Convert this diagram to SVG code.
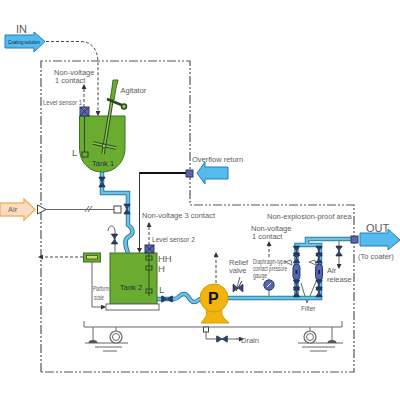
<svg xmlns="http://www.w3.org/2000/svg" width="400" height="400" viewBox="0 0 400 400">
<style>
text{font-family:"Liberation Sans",Arial,sans-serif;fill:#5c5c5c}
.t{font-size:7.5px}
.s{font-size:6.5px}
.l{font-size:11px}
.m{font-size:9.500px}
.bound{fill:none;stroke:#555;stroke-width:1.200;stroke-dasharray:9 2 2 2 2 2}
.sig{fill:none;stroke:#444;stroke-width:1;stroke-dasharray:3 2}
.ln{fill:none;stroke:#666;stroke-width:1}
.po{fill:none;stroke:#2a7ca0;stroke-width:4.500}
.pi{fill:none;stroke:#6cc3e6;stroke-width:2.600}
.green{fill:#69ac30;stroke:#3f6e22;stroke-width:1}
.ar{fill:#55bbee;stroke:#1f7fb5;stroke-width:1}
.vb{fill:#33466e;stroke:#1d2a50;stroke-width:.6}
.sq{fill:#5a68a8;stroke:#2d3870;stroke-width:1}
.bx{fill:none;stroke:#2c4a1a;stroke-width:1}
</style>
<defs>
<marker id="tip" markerWidth="5" markerHeight="5" refX="4" refY="2.500" orient="auto"><path d="M0 0L5 2.500L0 5z" fill="#333"/></marker>
<g id="valve"><path class="vb" d="M-2.500 -4L2.500 -4L-2.500 4L2.500 4z"/><path class="vb" d="M-3 -5h6v1h-6zM-3 4h6v1h-6z"/></g>
<g id="hvalve"><path class="vb" d="M-4 -2.500L-4 2.500L4 -2.500L4 2.500z"/><path class="vb" d="M-5.500 -3h1.200v6h-1.200zM4.300 -3h1.200v6h-1.200z"/></g>
<g id="filt"><use href="#valve" y="-21"/><use href="#valve" y="-14"/><rect x="-3.500" y="-8" width="7" height="16" rx="3.500" fill="#5468b0" stroke="#2d3870"/><rect x="-1" y="-2" width="2" height="4" fill="#1d2a50"/><use href="#valve" y="13"/><use href="#valve" y="20"/></g>
<g id="wheel"><circle r="6" fill="#fff" stroke="#666" stroke-width="1.200"/><circle r="3.500" fill="#fff" stroke="#666" stroke-width="1"/></g>
<path id="bump" d="M-4.500 0Q-4.500 -3 0 -3Q4.500 -3 4.500 0z" fill="#555"/>
</defs>

<g id="boundary">
<path class="bound" d="M41 372V61H190V205H354V372H41"/>
</g>

<g id="connectors">
<path class="sig" marker-end="url(#tip)" d="M46 41.500H80Q97 41.500 98 62V115"/>
<path class="sig" marker-end="url(#tip)" d="M84 107V85"/>
<path class="sig" marker-end="url(#tip)" d="M149 245V223"/>
<path class="sig" marker-end="url(#tip)" d="M83 257H39"/>
<path class="sig" marker-end="url(#tip)" d="M216 283V253"/>
<path class="sig" marker-end="url(#tip)" d="M269 257V242"/>
<path d="M139.500 173H186" fill="none" stroke="#111" stroke-width="1.800"/>
<path d="M139.500 172V252" fill="none" stroke="#333" stroke-width="1" marker-end="url(#tip)"/>
<path class="ln" d="M44 209.500H114"/>
<path class="ln" d="M85 212L89 206M88 212L92 206"/>
<path class="ln" d="M92 262V307H105" marker-end="url(#tip)"/>
<path class="ln" d="M115 252V231a3.500 5 0 0 0 -7 0"/>
<path class="ln" d="M84 327H342M84 321V327M342 321V327"/>
<path class="ln" d="M93 327V342M116 327V331M310 327V331M332 327V342"/>
<path class="ln" d="M85 343H128M95 347H122M103 351H117M298 343H343M302 347H335M310 351H327"/>
<path class="ln" d="M206 332V339H236"/>
<path d="M236 339H243" fill="none" stroke="#333" marker-end="url(#tip)"/>
<path class="ln" d="M339 240V268" marker-end="url(#tip)"/>
<path class="ln" d="M301 283L307 303L318 277"/>
<path class="ln" d="M240 277L237 287"/>
<path class="ln" d="M269 290V297M265 297H273"/>
<g>
<path class="po" d="M102 172V193H128V225C134 229 134 234 128 237C124 240 125 245 128 253"/>
<path class="pi" d="M102 172V193H128V225C134 229 134 234 128 237C124 240 125 245 128 253"/>
<path class="po" d="M157 299H174C179 299 179 294 184 294C189 294 189 302 194 302C198 302 198 299 201 299"/>
<path class="pi" d="M157 299H174C179 299 179 294 184 294C189 294 189 302 194 302C198 302 198 299 201 299"/>
<path class="po" d="M228 298H320V245H296.500V298M307 245V239H354"/>
<path class="pi" d="M228 298H320V245H296.500V298M307 245V239H354"/>
</g>
</g>

<g id="arrow-in"><path class="ar" d="M5 35H34V32L45 41.500L34 52V48H5z"/><text x="8" y="44" font-size="6" textLength="32" lengthAdjust="spacingAndGlyphs" style="fill:#123">Coating solution</text><text class="l" x="16" y="33">IN</text></g>
<g id="arrow-air"><path d="M0 203H24V199L35 209.500L24 220V216H0z" fill="#fcdcc0" stroke="#f0b56a" stroke-width="1.500"/><text class="t" x="8" y="212">Air</text></g>
<g id="air-inlet"><path d="M37.500 205V214L46 209.500z" fill="#fff" stroke="#444"/><rect x="114" y="206" width="7" height="7" fill="#fff" stroke="#444"/><use href="#valve" x="127" y="209"/></g>
<g id="arrow-overflow"><path class="ar" d="M228 167H205V162L197 173L205 184V179H228z"/><text class="t" x="192" y="162">Overflow return</text></g>
<g id="arrow-out"><path class="ar" d="M360 233H388V229L400 240L388 250V246H360z"/><text class="l" x="366" y="232">OUT</text><text class="t" x="358" y="259">(To coater)</text></g>

<g id="tank1">
<path class="green" d="M79.500 116H125V148C125 162 115 172 102 172C89 172 79.500 162 79.500 148z"/>
<path d="M84.500 116V152" stroke="#2c4a1a" fill="none"/><rect x="82" y="152" width="6" height="5" class="bx"/>
<path d="M112 100L103 154" stroke="#2c4a1a" stroke-width="3.500" fill="none"/><path d="M112 100L103 154" stroke="#8fc65a" stroke-width="1.500" fill="none"/>
<path d="M93 143L116 148" stroke="#2c4a1a" stroke-width="3.500"/><path d="M93 143L116 148" stroke="#8fc65a" stroke-width="1.500"/>
<circle cx="104" cy="146" r="2" fill="#8fc65a" stroke="#2c4a1a"/>
<path d="M113 80H118L116 88L114 100H110L112 88z" class="green"/>
<path d="M107 99L124 106" stroke="#2c4a1a" stroke-width="2.500"/>
<circle cx="124" cy="106.500" r="2.500" fill="#8fc65a" stroke="#2c4a1a" stroke-width="1.500"/>
<rect x="80" y="107" width="9" height="9" class="sq"/><path d="M80 107l9 9m0-9l-9 9" stroke="#223" stroke-width=".7"/>
<use href="#valve" x="102" y="182"/>
<text class="t" x="92" y="165.500" style="fill:#234">Tank 1</text>
<text class="m" x="72" y="156">L</text>
<text class="t" x="54" y="75">Non-voltage</text><text class="t" x="55" y="83">1 contact</text>
<text class="s" x="43" y="105" textLength="39" lengthAdjust="spacingAndGlyphs">Level sensor 1</text>
<text class="t" x="120.500" y="93">Agitator</text>
</g>

<g id="sq-overflow"><rect x="186" y="170" width="7" height="7" class="sq"/></g>

<g id="tank2">
<rect x="110" y="253" width="47" height="51" class="green"/>
<rect x="106" y="304" width="53" height="6" fill="#fff" stroke="#666"/>
<path d="M149 253V296" stroke="#2c4a1a"/>
<rect x="146" y="256" width="6" height="4" class="bx"/><rect x="146" y="266" width="6" height="4" class="bx"/><rect x="146" y="289" width="6" height="4" class="bx"/>
<rect x="145" y="245" width="9" height="8" class="sq"/><path d="M145 245l9 8m0-8l-9 8" stroke="#223" stroke-width=".7"/>
<use href="#valve" x="114.500" y="239"/>
<text class="t" x="120" y="290" style="fill:#234">Tank 2</text>
<text class="m" x="158" y="262">HH</text><text class="m" x="158" y="272">H</text><text class="m" x="159" y="293">L</text>
<text class="s" x="93" y="291" textLength="16" lengthAdjust="spacingAndGlyphs">Platform</text><text class="s" x="94" y="300" textLength="10" lengthAdjust="spacingAndGlyphs">scale</text>
<text class="t" x="142" y="218">Non-voltage 3 contact</text>
<text class="s" x="152" y="242" textLength="43" lengthAdjust="spacingAndGlyphs">Level sensor 2</text>
<rect x="83.500" y="253" width="17" height="9" class="green"/><rect x="86.500" y="255.500" width="11" height="3.500" fill="#c8d870" stroke="#2c4a1a" stroke-width=".7"/>
<use href="#hvalve" x="167" y="299"/>
</g>

<g id="pump">
<path d="M205 306Q208 314 205 318L201 323H229L224 318Q220 314 223 306z" fill="#f2b50f" stroke="#d89a00"/>
<circle cx="214" cy="298" r="14" fill="#f2b50f" stroke="#d89a00"/>
<text x="208" y="304" font-size="16" font-weight="bold" style="fill:#111">P</text>
<rect x="203.500" y="327" width="5" height="5" fill="#fff" stroke="#444"/>
</g>

<g id="base">
<use href="#bump" x="93" y="343"/><use href="#wheel" x="116" y="337"/>
<use href="#wheel" x="310" y="337"/><use href="#bump" x="332" y="343"/>
<use href="#hvalve" x="222" y="339"/>
<text class="t" x="241" y="343">Drain</text>
</g>

<g id="relief">
<path class="vb" d="M233 284L243 292V284L233 292z"/><path d="M236 291L242 281" stroke="#333"/>
<text class="t" x="229" y="265">Relief</text><text class="t" x="229" y="273">valve</text>
</g>
<g id="gauge">
<circle cx="269" cy="285" r="5.200" fill="#5468b0" stroke="#2d3870"/><path d="M267 287L271 283" stroke="#fff"/>
<text class="s" x="253" y="264" textLength="33" lengthAdjust="spacingAndGlyphs">Diaphragm-type</text><text class="s" x="253" y="271" textLength="34" lengthAdjust="spacingAndGlyphs">contact pressure</text><text class="s" x="253" y="278" textLength="14" lengthAdjust="spacingAndGlyphs">gauge</text>
<text class="t" x="251" y="231">Non-voltage</text><text class="t" x="252" y="239">1 contact</text>
</g>
<g id="filters">
<use href="#filt" x="296.500" y="272"/><use href="#filt" x="319" y="272"/>
<path d="M285 262L291 260L292 265z" fill="#fff" stroke="#555" stroke-width=".8"/><path d="M309 262L315 260L316 265z" fill="#fff" stroke="#555" stroke-width=".8"/>
<text class="s" x="301" y="310.500">Filter</text>
<use href="#valve" x="339" y="251"/>
<text class="t" x="327" y="273">Air</text><text class="t" x="327" y="282">release</text>
<text class="t" x="267" y="219">Non-explosion-proof area</text>
<rect x="351" y="236" width="7" height="7" class="sq"/>
</g>
</svg>
